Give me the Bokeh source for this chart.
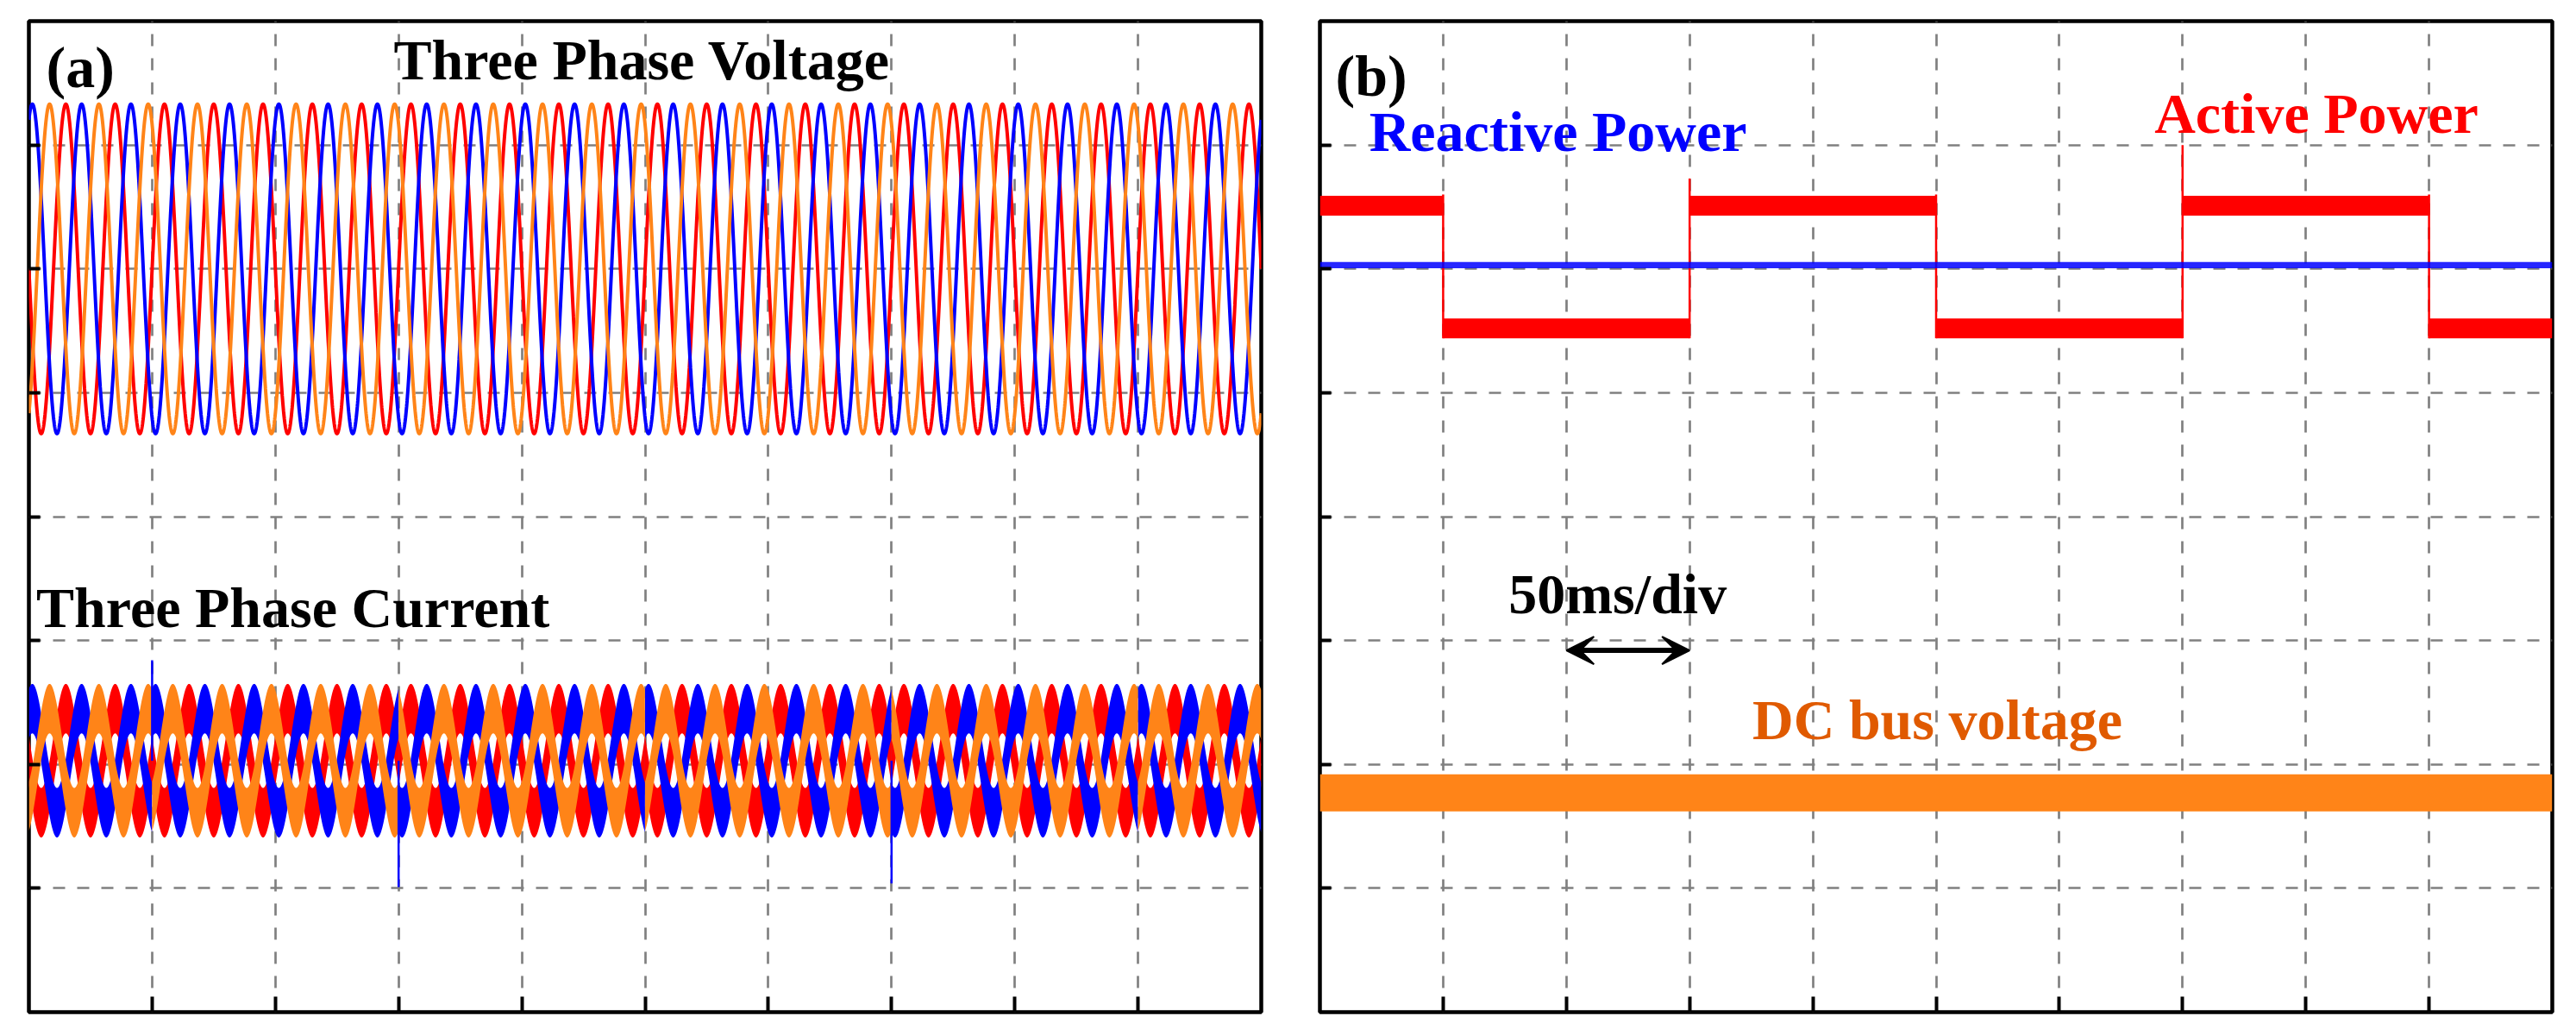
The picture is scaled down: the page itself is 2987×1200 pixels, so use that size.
import numpy as np
from bokeh.plotting import figure
from bokeh.models import Range1d, FixedTicker, Label, Arrow, VeeHead
from bokeh.layouts import row
from bokeh.embed import file_html
from bokeh.resources import INLINE

# ---------------- data (x in ms, y in grid divisions; 50 ms/div) ----------------
TIME_SPAN_MS = [0, 500]
DIV_SPAN = [0, 8]
X_TICKS_MS = [50, 100, 150, 200, 250, 300, 350, 400, 450]
Y_TICKS_DIV = [1, 2, 3, 4, 5, 6, 7]
LINE_FREQ_HZ = 50

# panel (a): three-phase voltage / current (phase order: red, blue, orange)
VOLT_PEAK_MS = [15.0, 1.4, 8.4]
VOLT_CENTER_DIV = 6.0
VOLT_AMPL_DIV = 1.33
CURR_CENTER_DIV = 2.03
CURR_AMPL_DIV = 0.42
CURR_BAND_DIV = 0.2
CURR_SPIKE_MS = [50, 150, 350]
CURR_SPIKE_DIV = [2.84, 1.01, 1.04]

# panel (b): active / reactive power and DC bus voltage
P_EDGES_MS = [0, 50, 150, 250, 350, 450, 500]
P_LEVEL_DIV = [6.51, 5.52, 6.51, 5.52, 6.51, 5.52]
P_RIPPLE_DIV = 0.08
P_STEP_PEAK_DIV = [6.6, 6.73, 6.6, 7.0, 6.6]
Q_LEVEL_DIV = 6.03
Q_RIPPLE_DIV = 0.025
DC_BAND_DIV = [1.62, 1.92]
SCALE_ARROW_MS = [100, 150]
SCALE_ARROW_DIV = 2.92

RED, BLUE, ORANGE = "#FF0000", "#0000FF", "#FF8418"
PHASE_COLORS = [RED, BLUE, ORANGE]
FONT = "Liberation Serif"
FRAME_W, FRAME_H = 1429, 1149
LABEL_DY = 0.157  # baseline correction


def make_fig(min_left, min_right):
    p = figure(frame_width=FRAME_W, frame_height=FRAME_H,
               x_range=Range1d(*TIME_SPAN_MS), y_range=Range1d(*DIV_SPAN),
               output_backend="svg", toolbar_location=None,
               min_border_left=min_left, min_border_right=min_right,
               min_border_top=24, min_border_bottom=14)
    p.outline_line_color = "black"
    p.outline_line_width = 4.5
    p.background_fill_color = "white"
    p.border_fill_color = "white"
    for ax, ticks, tlen in ((p.xaxis[0], X_TICKS_MS, 18), (p.yaxis[0], Y_TICKS_DIV, 13)):
        ax.ticker = FixedTicker(ticks=ticks)
        ax.major_tick_in = tlen
        ax.major_tick_out = 0
        ax.major_tick_line_width = 4
        ax.major_tick_line_color = "black"
        ax.minor_tick_line_color = None
        ax.axis_line_color = None
        ax.major_label_text_font_size = "0px"
        ax.major_label_standoff = 0
    for g in (p.xgrid[0], p.ygrid[0]):
        g.grid_line_color = "#808080"
        g.grid_line_width = 2.7
        g.grid_line_dash = "14 14"
    return p


def label(p, x, y, text, color="black", align="left", size="66px"):
    p.add_layout(Label(x=x, y=y + LABEL_DY, text=text, text_color=color, text_align=align,
                       text_baseline="alphabetic", text_font=FONT,
                       text_font_style="bold", text_font_size=size))


t = np.linspace(TIME_SPAN_MS[0], TIME_SPAN_MS[1], 10001)
w = 2 * np.pi * LINE_FREQ_HZ / 1000.0
edges = np.array(P_EDGES_MS)
levels = np.array(P_LEVEL_DIV)
seg_idx = np.clip(np.searchsorted(edges, t, side="right") - 1, 0, len(levels) - 1)
p_sign = np.where(levels[seg_idx] > Q_LEVEL_DIV, 1.0, -1.0)

# ---------------- panel (a) ----------------
pa = make_fig(33, 34)
for pk, col in zip(VOLT_PEAK_MS, PHASE_COLORS):
    pa.line(t, VOLT_CENTER_DIV + VOLT_AMPL_DIV * np.cos(w * (t - pk)), line_color=col, line_width=4)

for pk, col in zip(VOLT_PEAK_MS, PHASE_COLORS):
    c = CURR_CENTER_DIV + p_sign * CURR_AMPL_DIV * np.cos(w * (t - pk))
    pa.varea(x=t, y1=c - CURR_BAND_DIV, y2=c + CURR_BAND_DIV, fill_color=col)
pa.segment(x0=CURR_SPIKE_MS, y0=[CURR_CENTER_DIV] * len(CURR_SPIKE_MS),
           x1=CURR_SPIKE_MS, y1=CURR_SPIKE_DIV, line_color=BLUE, line_width=2.5)

label(pa, 7.0, 7.47, "(a)", size="68px")
label(pa, 148.0, 7.53, "Three Phase Voltage")
label(pa, 3.0, 3.11, "Three Phase Current")

# ---------------- panel (b) ----------------
pb = make_fig(34, 12)
pb.quad(left=TIME_SPAN_MS[0], right=TIME_SPAN_MS[1], bottom=DC_BAND_DIV[0], top=DC_BAND_DIV[1],
        fill_color=ORANGE, line_color=None)
pb.quad(left=P_EDGES_MS[:-1], right=P_EDGES_MS[1:],
        bottom=[v - P_RIPPLE_DIV for v in P_LEVEL_DIV], top=[v + P_RIPPLE_DIV for v in P_LEVEL_DIV],
        fill_color=RED, line_color=None)
pb.segment(x0=P_EDGES_MS[1:-1], y0=[min(P_LEVEL_DIV) - P_RIPPLE_DIV] * len(P_STEP_PEAK_DIV),
           x1=P_EDGES_MS[1:-1], y1=P_STEP_PEAK_DIV, line_color=RED, line_width=2.5)
pb.quad(left=TIME_SPAN_MS[0], right=TIME_SPAN_MS[1], bottom=Q_LEVEL_DIV - Q_RIPPLE_DIV,
        top=Q_LEVEL_DIV + Q_RIPPLE_DIV, fill_color=BLUE, fill_alpha=0.85, line_color=None)

pb.add_layout(Arrow(start=VeeHead(size=32, fill_color="black", line_color="black", line_width=2),
                    end=VeeHead(size=32, fill_color="black", line_color="black", line_width=2),
                    x_start=SCALE_ARROW_MS[0], x_end=SCALE_ARROW_MS[1],
                    y_start=SCALE_ARROW_DIV, y_end=SCALE_ARROW_DIV,
                    line_color="black", line_width=6))

label(pb, 6.3, 7.40, "(b)", size="68px")
label(pb, 20.0, 6.95, "Reactive Power", color=BLUE)
label(pb, 470.0, 7.10, "Active Power", color=RED, align="right")
label(pb, 76.5, 3.22, "50ms/div")
label(pb, 175.5, 2.20, "DC bus voltage", color="#E05A00")

layout = row(pa, pb)
open("out.html", "w").write(file_html(layout, INLINE))
